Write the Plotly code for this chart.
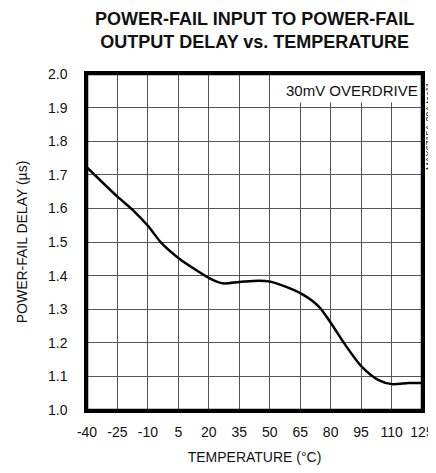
import plotly.graph_objects as go

# Data
temperature_c = [-40, -25, -17.4, -9.7, -3.5, 5.3, 13.6, 20.4, 26.8, 35.2, 44.7, 50.3,
                 57.8, 65.3, 74.2, 80.2, 87.3, 95.3, 103.6, 110.3, 118.3, 125]
delay_us = [1.722, 1.635, 1.595, 1.546, 1.498, 1.451, 1.417, 1.392, 1.377, 1.381, 1.385, 1.382,
            1.367, 1.347, 1.308, 1.258, 1.193, 1.129, 1.089, 1.077, 1.080, 1.080]

x_ticks = [-40, -25, -10, 5, 20, 35, 50, 65, 80, 95, 110, 125]
y_ticks = [1.0, 1.1, 1.2, 1.3, 1.4, 1.5, 1.6, 1.7, 1.8, 1.9, 2.0]

FONT = "Liberation Sans, Arial, sans-serif"

fig = go.Figure()
fig.add_trace(go.Scatter(
    x=temperature_c, y=delay_us, mode="lines",
    line=dict(color="black", width=2.5, shape="spline", smoothing=0.8),
    showlegend=False, hoverinfo="skip",
))

# Page body has an 8px margin; size the figure so the page does not overflow vertically
fig.update_layout(
    width=428, height=457,
    margin=dict(l=79, r=14, t=66, b=55, autoexpand=False),
    paper_bgcolor="white", plot_bgcolor="white",
    font=dict(family=FONT, size=14, color="#111"),
    xaxis=dict(
        range=[-40, 125], tickvals=x_ticks, ticktext=[str(v) for v in x_ticks],
        showgrid=True, gridcolor="#555", gridwidth=1, automargin=False,
        zeroline=False, showline=True, linecolor="black", linewidth=2.5, mirror=True,
        ticks="outside", ticklen=7, tickcolor="rgba(0,0,0,0)",
        tickfont=dict(size=14),
        title=dict(text="TEMPERATURE (°C)", font=dict(size=14), standoff=16),
    ),
    yaxis=dict(
        range=[1.0, 2.0], tickvals=y_ticks, ticktext=[f"{v:.1f}" for v in y_ticks],
        showgrid=True, gridcolor="#555", gridwidth=1, automargin=False,
        zeroline=False, showline=True, linecolor="black", linewidth=2.5, mirror=True,
        ticks="outside", ticklen=14, tickcolor="rgba(0,0,0,0)",
        tickfont=dict(size=14),
        title=dict(text="POWER-FAIL DELAY (µs)", font=dict(size=14), standoff=18),
    ),
)

# Title as an annotation (two lines, bold)
fig.add_annotation(text="<b>POWER-FAIL INPUT TO POWER-FAIL<br>OUTPUT DELAY vs. TEMPERATURE</b>",
                   xref="paper", yref="paper", x=0.5, y=1, yshift=20,
                   xanchor="center", yanchor="bottom", showarrow=False,
                   font=dict(family=FONT, size=18, color="#111"))

# White label box covering grid in the top-right cell area
fig.add_shape(type="rect", xref="x", yref="y", x0=57, x1=125, y0=1.915, y1=2.0,
              fillcolor="white", line=dict(width=0), layer="above")
fig.add_annotation(text="30mV OVERDRIVE", xref="x", yref="y", x=124, y=1.951,
                   xanchor="right", yanchor="middle", showarrow=False,
                   font=dict(family=FONT, size=15, color="#111"))
# Re-draw the frame edges over the box
fig.add_shape(type="rect", xref="paper", yref="paper", x0=0, x1=1, y0=0, y1=1,
              line=dict(color="black", width=2.5), layer="above")

# Vertical figure code at the right edge
fig.add_annotation(text="MAX6715A-29A toc11", xref="paper", yref="paper",
                   x=1, y=0.845, xshift=7, xanchor="center", yanchor="middle",
                   textangle=-90, showarrow=False, borderpad=0,
                   font=dict(family=FONT, size=9, color="black"))

fig.write_html("out.html")
